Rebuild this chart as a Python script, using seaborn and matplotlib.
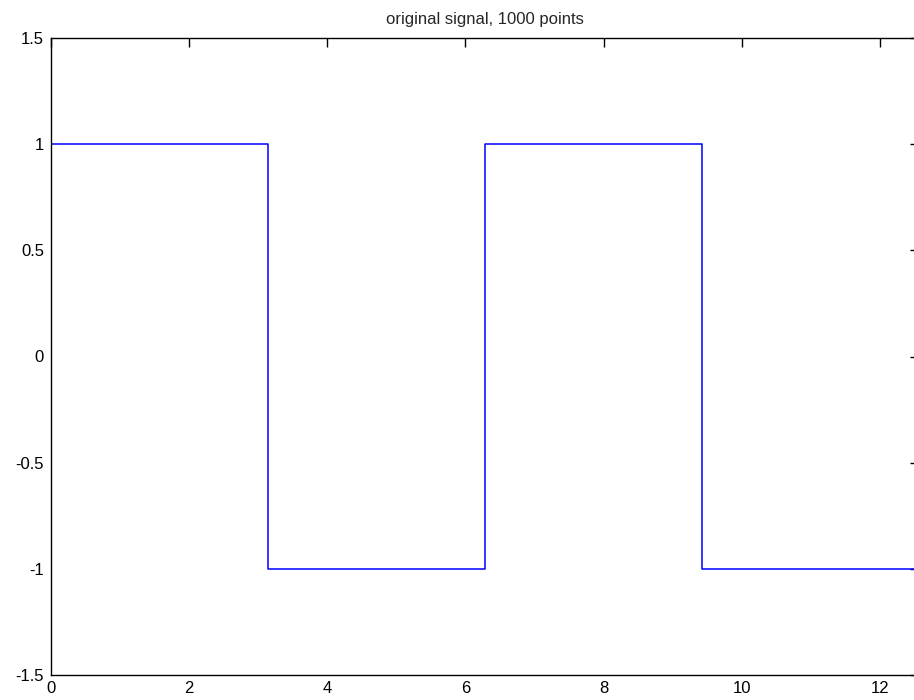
import numpy as np
import matplotlib
matplotlib.use("Agg")
import matplotlib.pyplot as plt
import seaborn as sns
import pandas as pd

# Data: square-wave breakpoints (x in radians) and levels
x_edges = [0.0, 3.1416, 6.2832, 9.4248, 12.5664]
levels = [1, -1, 1, -1, -1]
x_ticks = [0, 2, 4, 6, 8, 10, 12]
y_ticks = [-1.5, -1, -0.5, 0, 0.5, 1, 1.5]
y_tick_labels = ["-1.5", "-1", "-0.5", "0", "0.5", "1", "1.5"]
title = "original signal, 1000 points"

sns.set_style("white")
plt.rcParams['font.family'] = ['Liberation Sans', 'DejaVu Sans']

df = pd.DataFrame({"x": x_edges, "y": levels})

fig = plt.figure(figsize=(9.14, 7.0), dpi=100)
ax = fig.add_axes([51 / 914, 25 / 700, 868 / 914, 637 / 700])
sns.lineplot(data=df, x="x", y="y", ax=ax, color="#0000ff", linewidth=1.1,
             drawstyle="steps-post")

ax.set_xlim(0, 12.5664)
ax.set_ylim(-1.5, 1.5)
ax.set_xticks(x_ticks)
ax.set_xticklabels([str(t) for t in x_ticks])
ax.set_yticks(y_ticks)
ax.set_yticklabels(y_tick_labels)
ax.set_xlabel("")
ax.set_ylabel("")
ax.set_title(title, fontsize=12, pad=10)

for s in ax.spines.values():
    s.set_visible(True)
    s.set_color("black")
    s.set_linewidth(1.0)
ax.tick_params(direction="in", length=6.5, width=1.0, color="black",
               top=True, right=True, labelsize=12, labelcolor="black")
ax.tick_params(axis="y", pad=5)
ax.tick_params(axis="x", pad=4.5)
ax.grid(False)

fig.savefig("out.png", dpi=100, facecolor="white")
